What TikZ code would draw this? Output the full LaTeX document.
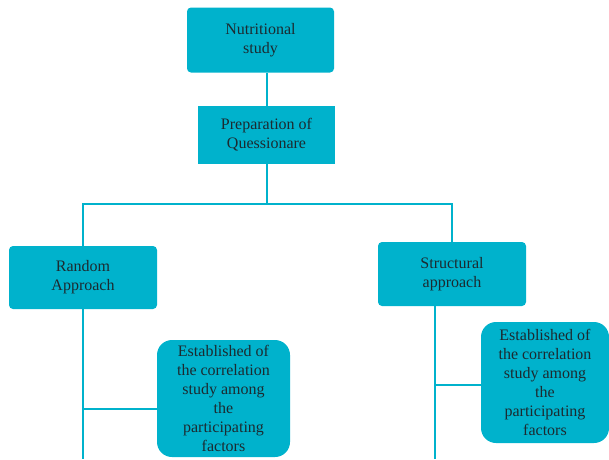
\documentclass[tikz,border=0pt]{standalone}
\usepackage{fontspec}
\setmainfont{Liberation Serif}
\definecolor{boxcyan}{HTML}{00B2CC}
\definecolor{txtdark}{HTML}{1C2A30}
\begin{document}
\begin{tikzpicture}[x=1pt,y=-1pt,
  box/.style={fill=boxcyan,draw=none,text=txtdark,align=center,inner sep=0pt,
    font=\fontsize{16}{19}\selectfont},
  sqbox/.style={box,rounded corners=4pt},
  rbox/.style={box,rounded corners=15pt},
  conn/.style={draw=boxcyan,line width=2pt}]
\useasboundingbox (0,0) rectangle (609,459);
\node[sqbox,minimum width=147pt,minimum height=65pt] (n1) at (260.5,40) {Nutritional\\study};
\node[box,minimum width=137pt,minimum height=58pt] (n2) at (266.5,135) {Preparation of\\Quessionare};
\node[sqbox,minimum width=148pt,minimum height=63pt] (rnd) at (83,277.5) {Random\\Approach};
\node[sqbox,minimum width=148pt,minimum height=64pt] (str) at (452,274) {Structural\\approach};
\node[rbox,minimum width=133pt,minimum height=117pt] (le) at (223.5,398.5) {Established of\\the correlation\\study among\\the\\participating\\factors};
\node[rbox,minimum width=128pt,minimum height=121pt] (re) at (545,382.5) {Established of\\the correlation\\study among\\the\\participating\\factors};
\coordinate (j) at (266.5,204);
\coordinate (lend) at (83,459);
\coordinate (rend) at (435,459);
\draw[conn] (n2.north) -- (n2.north |- n1.south);
\draw[conn] (n2.south) -- (j);
\draw[conn] (rnd.north) |- (j) -| (str.north);
\draw[conn] (rnd.south) -- (lend);
\draw[conn] ([yshift=-10.5pt]le.west) -- ([yshift=-10.5pt]le.west -| lend);
\draw[conn] (rend |- str.south) -- (rend);
\draw[conn] ([yshift=-2.5pt]re.west) -- ([yshift=-2.5pt]re.west -| rend);
\end{tikzpicture}
\end{document}
